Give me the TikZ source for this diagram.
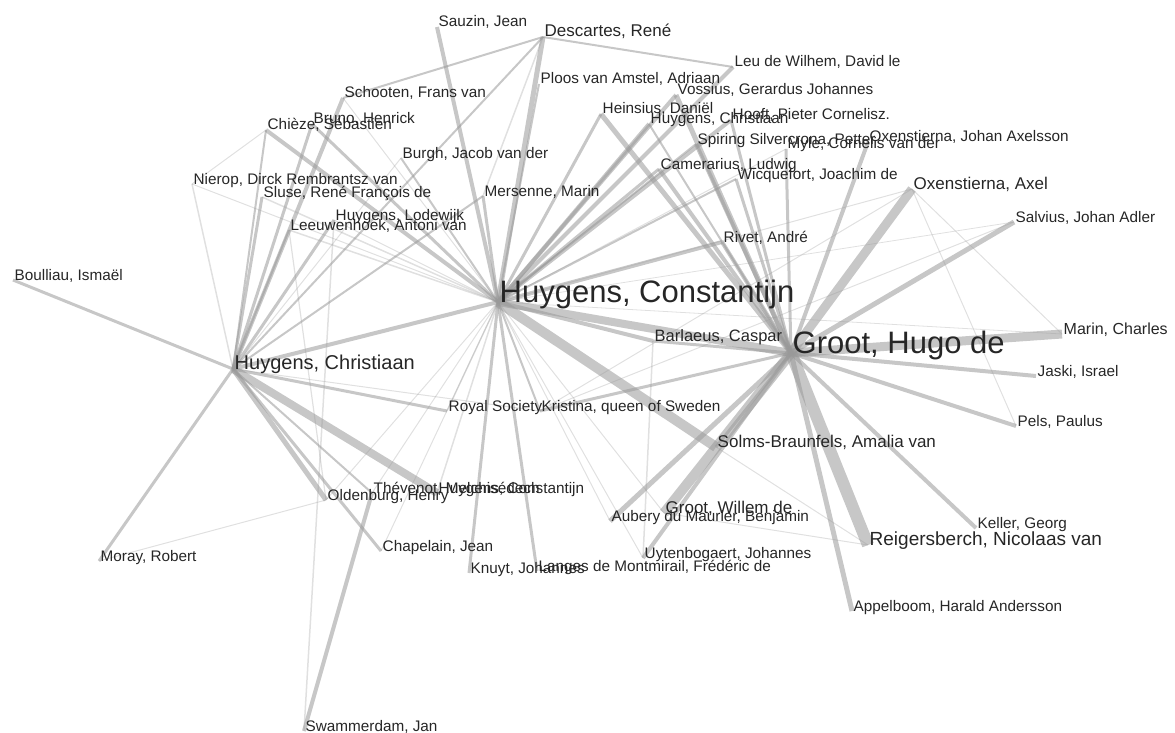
\documentclass[tikz,border=0pt]{standalone}
\usepackage{fontspec}
\setmainfont{Liberation Sans}
\begin{document}
\begin{tikzpicture}[x=1pt,y=-1pt,
  ed/.style={draw=black!40, line width=#1},
  lbl/.style={anchor=base west, inner sep=0pt, xshift=1.5pt, text=black!85,
              font=\fontsize{15.3}{17}\selectfont},
  lblm/.style={lbl, font=\fontsize{17}{19}\selectfont},
  lblh/.style={lbl, font=\fontsize{20}{22}\selectfont},
  lblr/.style={lbl, font=\fontsize{19}{21}\selectfont},
  lblbig/.style={lbl, font=\fontsize{31}{33}\selectfont}]
\useasboundingbox (0,0) rectangle (1175,733);

% correspondents (anchor points of the labels)
\coordinate (hc) at (498,302);
\coordinate (hg) at (791,353);
\coordinate (hch) at (233,369);
\coordinate (sauzin) at (437,27);
\coordinate (descartes) at (543,37);
\coordinate (leu) at (733,67);
\coordinate (ploos) at (539,84);
\coordinate (vossius) at (676,95);
\coordinate (schooten) at (343,98);
\coordinate (heinsius) at (601,114);
\coordinate (hchsr) at (649,124);
\coordinate (hooft) at (731,120);
\coordinate (bruno) at (312,124);
\coordinate (chieze) at (266,130);
\coordinate (spiring) at (696,144);
\coordinate (oxj) at (868,142);
\coordinate (myle) at (786,149);
\coordinate (burgh) at (401,158);
\coordinate (camerarius) at (659,169);
\coordinate (wicquefort) at (736,179);
\coordinate (nierop) at (192,184);
\coordinate (sluse) at (262,197);
\coordinate (mersenne) at (483,196);
\coordinate (oxa) at (912,189);
\coordinate (salvius) at (1014,222);
\coordinate (lodewijk) at (334,220);
\coordinate (leeuwenhoek) at (289,230);
\coordinate (rivet) at (722,242);
\coordinate (boulliau) at (13,280);
\coordinate (marin) at (1062,334);
\coordinate (barlaeus) at (653,341);
\coordinate (jaski) at (1036,376);
\coordinate (royal) at (447,411);
\coordinate (kristina) at (540,411);
\coordinate (pels) at (1016,426);
\coordinate (solms) at (716,447);
\coordinate (thevenot) at (372,493);
\coordinate (hcjr) at (437,493);
\coordinate (oldenburg) at (326,500);
\coordinate (grootw) at (664,513);
\coordinate (aubery) at (610,521);
\coordinate (keller) at (976,528);
\coordinate (reigers) at (868,545);
\coordinate (chapelain) at (381,551);
\coordinate (uyten) at (643,558);
\coordinate (moray) at (99,561);
\coordinate (langes) at (537,571);
\coordinate (knuyt) at (469,573);
\coordinate (appelboom) at (852,611);
\coordinate (swammerdam) at (304,731);

% letters exchanged: line width follows the number of letters,
% rare contacts are drawn fainter
\foreach \a/\b/\w in {
  hg/marin/9, hg/oxa/9, hg/salvius/5, hg/jaski/4, hg/pels/4, hg/keller/4,
  hg/reigers/12, hg/appelboom/5, hg/grootw/10, hg/aubery/5, hg/uyten/4,
  hg/solms/3, hg/hc/8, hg/barlaeus/3, hg/kristina/3, hg/rivet/4,
  hg/wicquefort/3, hg/camerarius/4, hg/spiring/4, hg/vossius/5,
  hg/heinsius/5, hg/hooft/3, hg/myle/3, hg/oxj/4, hg/hchsr/2,
  hc/solms/10, hc/hch/4, hc/sauzin/4, hc/descartes/5, hc/leu/4,
  hc/vossius/4, hc/hooft/4, hc/hchsr/4, hc/heinsius/3, hc/camerarius/3,
  hc/wicquefort/2, hc/rivet/4, hc/barlaeus/4, hc/mersenne/3, hc/burgh/2,
  hc/ploos/2, hc/spiring/2, hc/knuyt/3, hc/langes/3, hc/kristina/2,
  hc/royal/1.5, hc/chieze/4, hc/bruno/3, hc/schooten/1, hc/nierop/1,
  hc/sluse/1.5, hc/leeuwenhoek/1.5, hc/lodewijk/1, hc/chapelain/1,
  hc/oldenburg/1, hc/thevenot/1, hc/hcjr/1.5, hc/grootw/1, hc/aubery/1,
  hc/uyten/1, hc/oxa/1, hc/myle/1, hc/salvius/0.8, hc/marin/0.8,
  hch/boulliau/3, hch/moray/3, hch/hcjr/8, hch/oldenburg/5,
  hch/chapelain/3, hch/royal/3, hch/schooten/4, hch/bruno/3, hch/chieze/2,
  hch/sluse/3, hch/leeuwenhoek/2, hch/lodewijk/3, hch/nierop/1.5,
  hch/mersenne/2, hch/descartes/2, hch/thevenot/2, hch/kristina/1,
  hch/burgh/1,
  descartes/leu/2, descartes/schooten/2, descartes/mersenne/1.5,
  swammerdam/thevenot/4, swammerdam/lodewijk/1.5, moray/oldenburg/1,
  leeuwenhoek/oldenburg/1.2,
  nierop/chieze/1, oxa/marin/1, oxa/pels/1, barlaeus/uyten/1.5,
  kristina/oxa/1, kristina/salvius/1, grootw/reigers/1, solms/reigers/1}
{
  \pgfmathsetmacro\op{\w<2 ? 0.3 : 0.55}
  \draw[ed=\w pt, draw opacity=\op] (\a) -- (\b);
}

% names
\node[lbl] (l-sauzin) at (sauzin) {Sauzin, Jean};
\node[lblm] (l-descartes) at (descartes) {Descartes, René};
\node[lbl] (l-leu) at (leu) {Leu de Wilhem, David le};
\node[lbl] (l-ploos) at (ploos) {Ploos van Amstel, Adriaan};
\node[lbl] (l-vossius) at (vossius) {Vossius, Gerardus Johannes};
\node[lbl] (l-schooten) at (schooten) {Schooten, Frans van};
\node[lbl] (l-heinsius) at (heinsius) {Heinsius, Daniël};
\node[lbl] (l-hchsr) at (hchsr) {Huygens, Christiaan};
\node[lbl] (l-hooft) at (hooft) {Hooft, Pieter Cornelisz.};
\node[lbl] (l-bruno) at (bruno) {Bruno, Henrick};
\node[lbl] (l-chieze) at (chieze) {Chièze, Sébastien};
\node[lbl] (l-spiring) at (spiring) {Spiring Silvercrona, Petter};
\node[lbl] (l-oxj) at (oxj) {Oxenstierna, Johan Axelsson};
\node[lbl] (l-myle) at (myle) {Myle, Cornelis van der};
\node[lbl] (l-burgh) at (burgh) {Burgh, Jacob van der};
\node[lbl] (l-camerarius) at (camerarius) {Camerarius, Ludwig};
\node[lbl] (l-wicquefort) at (wicquefort) {Wicquefort, Joachim de};
\node[lbl] (l-nierop) at (nierop) {Nierop, Dirck Rembrantsz van};
\node[lbl] (l-sluse) at (sluse) {Sluse, René François de};
\node[lbl] (l-mersenne) at (mersenne) {Mersenne, Marin};
\node[lblm] (l-oxa) at (oxa) {Oxenstierna, Axel};
\node[lbl] (l-salvius) at (salvius) {Salvius, Johan Adler};
\node[lbl] (l-lodewijk) at (lodewijk) {Huygens, Lodewijk};
\node[lbl] (l-leeuwenhoek) at (leeuwenhoek) {Leeuwenhoek, Antoni van};
\node[lbl] (l-rivet) at (rivet) {Rivet, André};
\node[lbl] (l-boulliau) at (boulliau) {Boulliau, Ismaël};
\node[lblbig] (l-hc) at (hc) {Huygens, Constantijn};
\node[lbl, font=\fontsize{16}{18}\selectfont] (l-marin) at (marin) {Marin, Charles};
\node[lblm, font=\fontsize{16.5}{18}\selectfont] (l-barlaeus) at (barlaeus) {Barlaeus, Caspar};
\node[lblbig] (l-hg) at (hg) {Groot, Hugo de};
\node[lblh] (l-hch) at (hch) {Huygens, Christiaan};
\node[lbl] (l-jaski) at (jaski) {Jaski, Israel};
\node[lbl] (l-royal) at (royal) {Royal Society};
\node[lbl] (l-kristina) at (kristina) {Kristina, queen of Sweden};
\node[lbl] (l-pels) at (pels) {Pels, Paulus};
\node[lblm] (l-solms) at (solms) {Solms-Braunfels, Amalia van};
\node[lbl] (l-thevenot) at (thevenot) {Thévenot, Melchisédech};
\node[lbl] (l-hcjr) at (hcjr) {Huygens, Constantijn};
\node[lbl] (l-oldenburg) at (oldenburg) {Oldenburg, Henry};
\node[lblm] (l-grootw) at (grootw) {Groot, Willem de};
\node[lbl] (l-aubery) at (aubery) {Aubery du Maurier, Benjamin};
\node[lbl] (l-keller) at (keller) {Keller, Georg};
\node[lblr] (l-reigers) at (reigers) {Reigersberch, Nicolaas van};
\node[lbl] (l-chapelain) at (chapelain) {Chapelain, Jean};
\node[lbl] (l-uyten) at (uyten) {Uytenbogaert, Johannes};
\node[lbl] (l-moray) at (moray) {Moray, Robert};
\node[lbl] (l-langes) at (langes) {Langes de Montmirail, Frédéric de};
\node[lbl] (l-knuyt) at (knuyt) {Knuyt, Johannes};
\node[lbl] (l-appelboom) at (appelboom) {Appelboom, Harald Andersson};
\node[lbl] (l-swammerdam) at (swammerdam) {Swammerdam, Jan};
\end{tikzpicture}
\end{document}
